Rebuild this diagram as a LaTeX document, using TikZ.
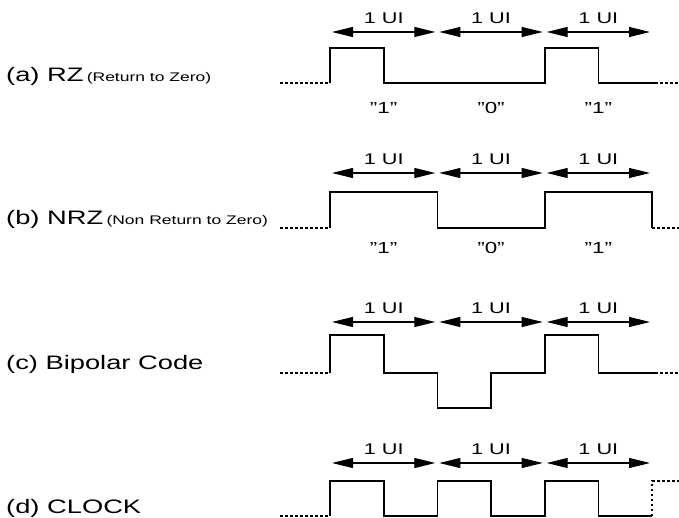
\documentclass[tikz,border=0pt]{standalone}
\usepackage{fontspec}
\setmainfont[FakeStretch=1.4]{Liberation Sans}
\usetikzlibrary{positioning,arrows.meta}

\begin{document}
\begin{tikzpicture}[x=1pt,y=-1pt,
  wave/.style={line width=1.6pt},
  dots/.style={line width=1.3pt,dash pattern=on 2.5pt off 2.5pt},
  uiarrow/.style={line width=1.1pt,{Triangle[length=21pt,width=10pt]}-{Triangle[length=21pt,width=10pt]}},
  uilabel/.style={font=\fontsize{15.5}{17}\selectfont,inner sep=0pt},
  bit/.style={font=\fontsize{16}{18}\selectfont},
  rowlabel/.style={anchor=base west,inner sep=0pt,font=\fontsize{19.5}{22}\selectfont}]
\useasboundingbox (0,0) rectangle (679,518);

% row titles
\node[rowlabel] (rz) at (6,82) {(a) RZ\,{\fontsize{12.5}{14}\selectfont(Return to Zero)}};
\node[rowlabel] (nrz) at (6,225) {(b) NRZ\,{\fontsize{12.5}{14}\selectfont(Non Return to Zero)}};
\node[rowlabel] (bip) at (6,369) {(c) Bipolar Code};
\node[rowlabel] (clk) at (6,513) {(d) CLOCK};

% unit intervals
\foreach \r/\y in {a/32,b/173,c/322,d/463}{
  \foreach \k in {0,...,3}
    \coordinate (\r\k) at ({330+107.33*\k},\y);
  \foreach \k/\n in {0/1,1/2,2/3}
    \draw[uiarrow] ([xshift=2pt]\r\k) -- ([xshift=-2pt]\r\n) node[midway,above=7.5pt,uilabel] {1 UI};
}

% bit values
\foreach \r/\y in {a/108,b/248}
  \foreach \b [count=\k] in {1,0,1}
    \node[bit] (bit\r\k) at ({276.33+107.33*\k},\y) {"\b"};

% (a) RZ
\draw[dots] (280,83) -- (330,83);
\draw[wave] (330,83) -- (330,48) -- (383.7,48) -- (383.7,83) -- (544.7,83) -- (544.7,48) -- (598.3,48) -- (598.3,83) -- (655,83);
\draw[dots] (655,83) -- (679,83);

% (b) NRZ
\draw[dots] (280,228) -- (330,228);
\draw[wave] (330,228) -- (330,192) -- (437.3,192) -- (437.3,228) -- (544.7,228) -- (544.7,192) -- (652,192) -- (652,228);
\draw[dots] (652,228) -- (679,228);

% (c) bipolar
\draw[dots] (280,373) -- (330,373);
\draw[wave] (330,373) -- (330,335) -- (383.7,335) -- (383.7,373) -- (437.3,373) -- (437.3,408) -- (491,408) -- (491,373) -- (544.7,373) -- (544.7,335) -- (598.3,335) -- (598.3,373) -- (655,373);
\draw[dots] (655,373) -- (679,373);

% (d) clock
\draw[dots] (280,516) -- (330,516);
\draw[wave] (330,516) -- (330,481) -- (383.7,481) -- (383.7,516) -- (437.3,516) -- (437.3,481) -- (491,481) -- (491,516) -- (544.7,516) -- (544.7,481) -- (598.3,481) -- (598.3,516) -- (652,516);
\draw[dots] (652,516) -- (652,481) -- (679,481);
\end{tikzpicture}
\end{document}
